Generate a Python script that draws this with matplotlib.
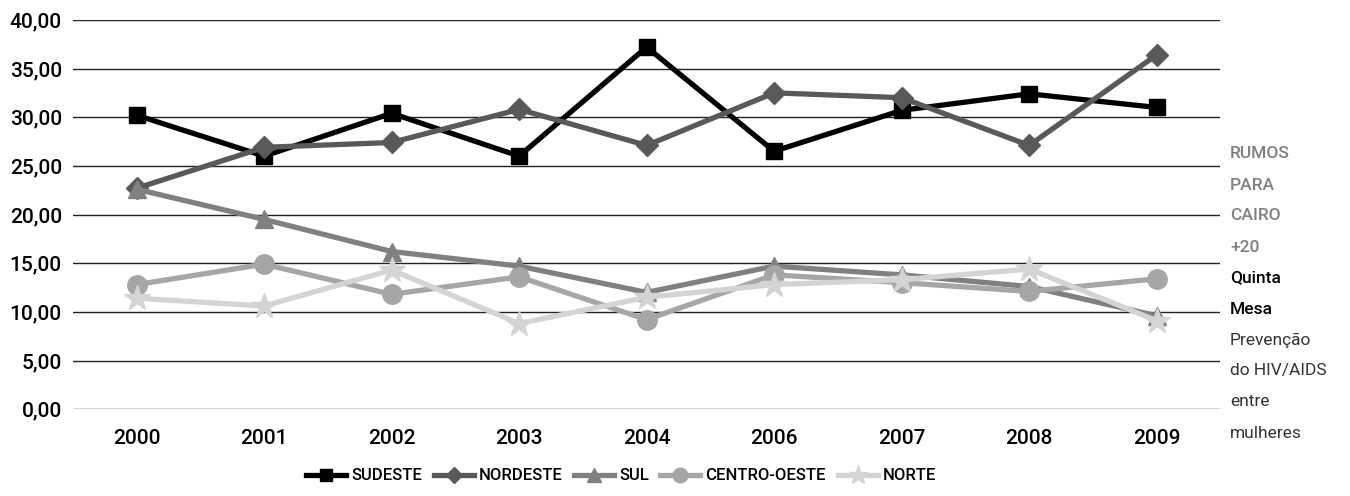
import matplotlib
matplotlib.use("Agg")
import matplotlib.pyplot as plt
from matplotlib.ticker import FuncFormatter

plt.rcParams['font.family'] = ['Roboto', 'DejaVu Sans']

anos = ["2000", "2001", "2002", "2003", "2004", "2006", "2007", "2008", "2009"]
sudeste = [30.2, 26.0, 30.4, 26.0, 37.2, 26.5, 30.7, 32.4, 31.0]
nordeste = [22.7, 26.9, 27.4, 30.8, 27.1, 32.5, 32.0, 27.1, 36.4]
sul = [22.6, 19.5, 16.2, 14.7, 12.0, 14.7, 13.8, 12.6, 9.6]
centro_oeste = [12.8, 14.9, 11.8, 13.6, 9.2, 13.8, 13.0, 12.1, 13.4]
norte = [11.4, 10.6, 14.3, 8.8, 11.5, 12.8, 13.3, 14.4, 9.1]

series = [
    ("SUDESTE", sudeste, "#000000", "s", 12),
    ("NORDESTE", nordeste, "#595959", "D", 11),
    ("SUL", sul, "#808080", "^", 13),
    ("CENTRO-OESTE", centro_oeste, "#a6a6a6", "o", 14),
    ("NORTE", norte, "#d4d4d4", "*", 19),
]

fig = plt.figure(figsize=(13.5, 4.96), dpi=100)
ax = fig.add_axes([0.054, 0.175, 0.85, 0.785])

x = list(range(len(anos)))
for nome, vals, cor, mk, ms in series:
    ax.plot(x, vals, color=cor, lw=3.8, marker=mk, markersize=ms,
            markeredgecolor=cor, label=nome, solid_joinstyle='miter')

ax.set_xlim(-0.5, len(anos) - 0.5)
ax.set_ylim(0, 40)
ax.set_yticks(range(0, 41, 5))
ax.yaxis.set_major_formatter(FuncFormatter(lambda v, p: f"{v:.2f}".replace(".", ",")))
ax.set_xticks(x)
ax.set_xticklabels(anos)
ax.grid(axis='y', color='#222222', lw=1)
ax.set_axisbelow(True)
for s in ax.spines.values():
    s.set_visible(False)
ax.tick_params(length=0, labelsize=15, pad=8)
ax.tick_params(axis='x', pad=14)
for lab in ax.get_xticklabels() + ax.get_yticklabels():
    lab.set_fontweight('medium')

leg = fig.legend(loc='lower center', bbox_to_anchor=(0.46, -0.005), ncol=5,
                 frameon=False, handlelength=2.4, columnspacing=0.7,
                 handletextpad=0.3, markerscale=0.75,
                 prop={'size': 12, 'weight': 'medium'})

lado = [("RUMOS", "#808080"), ("PARA", "#808080"),
        ("CAIRO", "#808080"), ("+20", "#808080"),
        ("Quinta", "#000000"), ("Mesa", "#000000"),
        ("Prevenção", "#333333"), ("do HIV/AIDS", "#333333"),
        ("entre", "#333333"), ("mulheres", "#333333")]
y0 = 154
for i, (t, c) in enumerate(lado):
    w = 'medium' if i < 6 else 'normal'
    fig.text(1230 / 1350, 1 - (y0 + i * 31) / 496, t, color=c, fontweight=w,
             fontsize=12.5, va='center', ha='left')

fig.savefig("out.png", dpi=100)
